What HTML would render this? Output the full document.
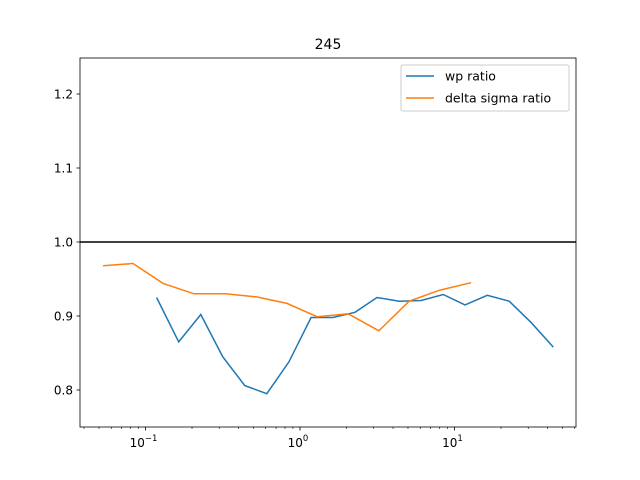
<!DOCTYPE html>
<html><head><meta charset="utf-8"><style>
body{margin:0;background:#fff;}
svg{display:block;font-family:"DejaVu Sans","Liberation Sans",sans-serif;}
</style></head><body>
<svg id="chart" width="640" height="480">
<text x="328" y="49" font-size="14" text-anchor="middle">245</text>
<g id="axes"></g>
</svg>
<script>
const blueX=[0.118,0.164,0.228,0.316,0.439,0.610,0.847,1.18,1.63,2.27,3.15,4.38,6.08,8.45,11.7,16.3,22.6,31.4,43.6];
const blueY=[0.925,0.865,0.902,0.845,0.806,0.795,0.838,0.898,0.898,0.905,0.925,0.920,0.921,0.929,0.915,0.928,0.920,0.891,0.858];
const orangeX=[0.0531,0.083,0.130,0.206,0.327,0.519,0.824,1.29,2.05,3.24,5.08,8.06,12.8];
const orangeY=[0.968,0.971,0.944,0.930,0.930,0.926,0.917,0.899,0.903,0.880,0.920,0.935,0.945];
const yTicks=[0.8,0.9,1.0,1.1,1.2];
const xTickExp=[-1,0,1];
const L=80,R=576,T=58,B=427;
const xs=v=>300+154.5*Math.log10(v);
const ys=v=>242-740*(v-1.0);
const ns="http://www.w3.org/2000/svg";
const g=document.getElementById('axes');
function mk(t,a){const e=document.createElementNS(ns,t);for(const k in a)e.setAttribute(k,a[k]);g.appendChild(e);return e;}
let e=mk('line',{x1:L,x2:R,y1:ys(1),y2:ys(1),stroke:'#000','stroke-width':1.5});


function series(X,Y,c,name){const p=X.map((x,i)=>xs(x).toFixed(1)+','+ys(Y[i]).toFixed(1)).join(' ');
const el=mk('polyline',{points:p,fill:'none',stroke:c,'stroke-width':1.5});

}
series(blueX,blueY,'#1f77b4','wp-ratio-line');
series(orangeX,orangeY,'#ff7f0e','delta-sigma-ratio-line');
e=mk('rect',{x:L,y:T,width:R-L,height:B-T,fill:'none',stroke:'#000','stroke-width':0.8});


yTicks.forEach(v=>{const y=ys(v);mk('line',{x1:L-3.5,x2:L,y1:y,y2:y,stroke:'#000','stroke-width':0.8});
const t=mk('text',{x:L-7,y:y+4.5,'font-size':12,'text-anchor':'end'});t.textContent=v.toFixed(1);

});
for(let d=-2;d<=1;d++)for(let m=2;m<=9;m++){const x=xs(m*Math.pow(10,d));if(x>L&&x<R)mk('line',{x1:x,x2:x,y1:B,y2:B+2,stroke:'#000','stroke-width':0.6});}
xTickExp.forEach(p=>{const x=xs(Math.pow(10,p));mk('line',{x1:x,x2:x,y1:B,y2:B+3.5,stroke:'#000','stroke-width':0.8});
const t=mk('text',{x:x-2,y:B+20,'font-size':12,'text-anchor':'middle'});
t.innerHTML='10<tspan dy="-6" font-size="8.5">'+(p<0?'−'+(-p):p)+'</tspan>';

});
e=mk('rect',{x:401,y:65,width:168,height:46,rx:2,fill:'#fff','fill-opacity':0.8,stroke:'#ccc'});


[['wp ratio','#1f77b4',76],['delta sigma ratio','#ff7f0e',98]].forEach(([n,c,y])=>{
mk('line',{x1:406,x2:434,y1:y,y2:y,stroke:c,'stroke-width':1.5});
const t=mk('text',{x:445,y:y+4.5,'font-size':12.5});t.textContent=n;

});
</script>
</body></html>
